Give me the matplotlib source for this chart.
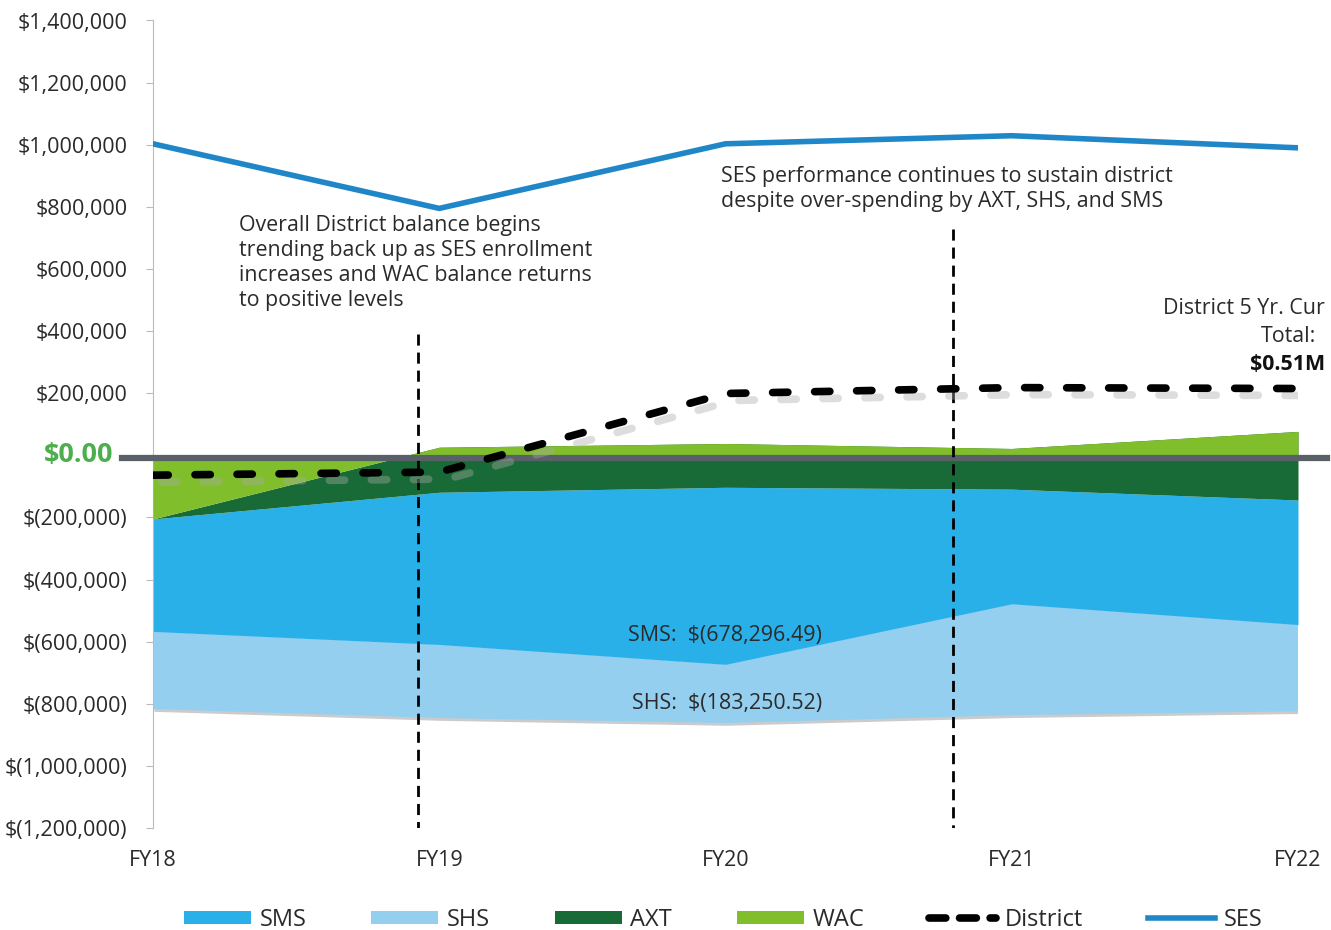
import matplotlib.pyplot as plt
import matplotlib.patheffects as pe
from matplotlib.lines import Line2D
from matplotlib.patches import Patch
import numpy as np

plt.rcParams['font.family'] = ['Open Sans', 'DejaVu Sans']

years = ["FY18", "FY19", "FY20", "FY21", "FY22"]

# values in dollars, stacked from zero in the order WAC, AXT, SMS, SHS
wac = [-205000, 26000, 38000, 22000, 77000]
axt = [0, -145000, -141000, -131000, -221000]
sms = [-362000, -490000, -570000, -369000, -401000]
shs = [-250000, -237000, -189000, -359000, -279000]
ses = [1003000, 795000, 1003000, 1029000, 990000]
district = [-64000, -54000, 199000, 218000, 215000]

y_ticks = np.arange(-1200000, 1400001, 200000)

c_sms = "#29b0e8"
c_shs = "#95cff0"
c_axt = "#186b36"
c_wac = "#80bf2b"
c_ses = "#1f86c8"
c_text = "#2a2a2a"

fig = plt.figure(figsize=(13.31, 9.30), dpi=100)
ax = fig.add_axes([153 / 1331, 1 - 828 / 930, 1145 / 1331, (828 - 20.5) / 930])

x = np.arange(len(years))
c1 = np.array(wac, dtype=float)
c2 = c1 + np.array(axt)
c3 = c2 + np.array(sms)
c4 = c3 + np.array(shs)

shs_fill = ax.fill_between(x, c3, c4, color=c_shs, lw=0, zorder=1)
shs_fill.set_path_effects([pe.SimplePatchShadow(offset=(1, -2), shadow_rgbFace="#555555", alpha=0.3), pe.Normal()])
ax.fill_between(x, c2, c3, color=c_sms, lw=0, zorder=2)
ax.fill_between(x, c1, c2, color=c_axt, lw=0, zorder=3)
ax.fill_between(x, 0, c1, color=c_wac, lw=0, zorder=4, interpolate=True)

ax.axhline(-10000, xmin=-0.027, xmax=1.025, color="#5a6068", lw=4.5, zorder=5, clip_on=False)

ax.plot(x, district, color="black", lw=5.5, dashes=(2.0, 3.5),
        dash_capstyle="round", zorder=7,
        path_effects=[pe.SimpleLineShadow(offset=(6, -5), shadow_color="#aaaaaa", alpha=0.4), pe.Normal()])
ax.plot(x, ses, color=c_ses, lw=4, zorder=8)

# annotation markers
ax.plot([0.926, 0.926], [391000, -1200000], color="black", lw=2, dashes=(4, 2.5), zorder=6)
ax.plot([2.795, 2.795], [728000, -1200000], color="black", lw=2, dashes=(4, 2.5), zorder=6)

ax.set_xlim(0, 4)
ax.set_ylim(-1200000, 1400000)
ax.set_xticks(x)
ax.set_xticklabels(years)
ax.set_yticks(y_ticks)


def fmt(v):
    if v == 0:
        return ""
    if v < 0:
        return "$({:,.0f})".format(-v)
    return "${:,.0f}".format(v)


ax.set_yticklabels([fmt(v) for v in y_ticks])

for s in ["top", "right", "bottom"]:
    ax.spines[s].set_visible(False)
ax.spines["left"].set_color("#bbbbbb")
ax.tick_params(axis="y", length=5, color="#bbbbbb", labelsize=15.5, pad=13.5, labelcolor=c_text)
ax.tick_params(axis="x", length=0, labelsize=15.5, pad=16, labelcolor=c_text)

fig.text(113 / 1331, 1 - 455 / 930, "$0.00", fontsize=19.5, fontweight="bold", color="#4cae4c",
         ha="right", va="center")

fs = 15.4
fig.text(239 / 1331, 1 - 215 / 930,
         "Overall District balance begins\ntrending back up as SES enrollment\nincreases and WAC balance returns\nto positive levels",
         fontsize=fs, color=c_text, va="top", ha="left", linespacing=1.25)
fig.text(721 / 1331, 1 - 166 / 930,
         "SES performance continues to sustain district\ndespite over-spending by AXT, SHS, and SMS",
         fontsize=fs, color=c_text, va="top", ha="left", linespacing=1.25)
fig.text(1325 / 1331, 1 - 308 / 930, "District 5 Yr. Cur", fontsize=fs, color=c_text,
         ha="right", va="center")
fig.text(1316 / 1331, 1 - 336 / 930, "Total:", fontsize=fs, color=c_text,
         ha="right", va="center")
fig.text(1325 / 1331, 1 - 364 / 930, "$0.51M", fontsize=fs, color="#111111",
         ha="right", va="center", fontweight="bold")
fig.text(822 / 1331, 1 - 636 / 930, "SMS:  $(678,296.49)", fontsize=fs, color=c_text,
         ha="right", va="center")
fig.text(822 / 1331, 1 - 704 / 930, "SHS:  $(183,250.52)", fontsize=fs, color=c_text,
         ha="right", va="center")

handles = [
    Patch(facecolor=c_sms, label="SMS"),
    Patch(facecolor=c_shs, label="SHS"),
    Patch(facecolor=c_axt, label="AXT"),
    Patch(facecolor=c_wac, label="WAC"),
    Line2D([], [], color="black", lw=5.5, dashes=(2.2, 1.8), dash_capstyle="round", label="District"),
    Line2D([], [], color=c_ses, lw=4, label="SES"),
]
fig.legend(handles=handles, loc="center", bbox_to_anchor=(723 / 1331, 1 - 920 / 930), ncol=6,
           frameon=False, fontsize=17, handlelength=2.85, handleheight=0.5, handletextpad=0.35,
           columnspacing=2.75, labelcolor=c_text)

fig.savefig("out.png", dpi=100)
